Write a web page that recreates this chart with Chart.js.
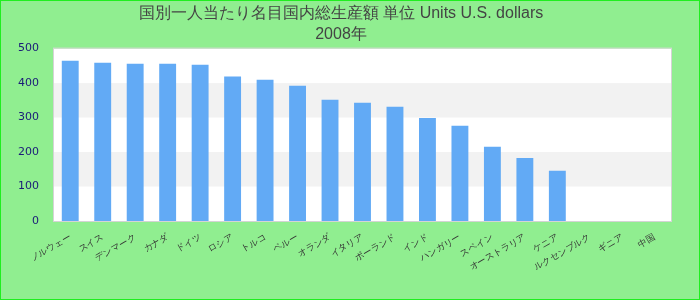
<!DOCTYPE html>
<html>
<head>
<meta charset="utf-8">
<script src="https://cdn.jsdelivr.net/npm/chart.js@4"></script>
<style>
  html, body { margin: 0; padding: 0; }
  #wrap { width: 700px; height: 300px; box-sizing: border-box; border: 1px solid #1fee1f; background: #90ee90; }
</style>
</head>
<body>
<div id="wrap"><canvas id="barChart"></canvas></div>
<script>
// Categories (x axis)
const categories = [
  "ノルウェー", "スイス", "デンマーク", "カナダ", "ドイツ", "ロシア", "トルコ",
  "ペルー", "オランダ", "イタリア", "ポーランド", "インド", "ハンガリー",
  "スペイン", "オーストラリア", "ケニア", "ルクセンブルク", "ギニア", "中国"
];

// Values in U.S. dollars (last three have no data)
const values = [
  465, 459, 456, 456, 453, 419, 410, 392, 352, 343, 331, 299, 276, 215, 183, 146,
  null, null, null
];

// Y axis ticks
const yTicks = [0, 100, 200, 300, 400, 500];

const titleLines = ["国別一人当たり名目国内総生産額 単位 Units U.S. dollars", "2008年"];

// Plot background: white with alternating light gray bands
const bandPlugin = {
  id: "bands",
  beforeDraw(chart) {
    const { ctx, chartArea: a, scales: { y } } = chart;
    ctx.save();
    ctx.fillStyle = "#ffffff";
    ctx.fillRect(a.left, a.top, a.right - a.left, a.bottom - a.top);
    ctx.fillStyle = "#f2f2f2";
    for (let i = 1; i < yTicks.length - 1; i += 2) {
      const top = y.getPixelForValue(yTicks[i + 1]);
      const bottom = y.getPixelForValue(yTicks[i]);
      ctx.fillRect(a.left, top, a.right - a.left, bottom - top);
    }
    ctx.strokeStyle = "#d4d4d4";
    ctx.lineWidth = 1;
    ctx.strokeRect(a.left - 0.5, a.top - 0.5, a.right - a.left + 1, a.bottom - a.top + 1);
    ctx.restore();
  },
};

const ctx = document.getElementById("barChart").getContext("2d");
const barChart = new Chart(ctx, {
  type: "bar",
  data: {
    labels: categories,
    datasets: [
      {
        data: values,
        backgroundColor: "#62aaf5",
        barPercentage: 0.52,
        categoryPercentage: 1,
      },
    ],
  },
  options: {
    responsive: true,
    maintainAspectRatio: false,
    animation: false,
    layout: { padding: { left: 10, right: 28, top: 0, bottom: 0 } },
    plugins: {
      legend: { display: false },
      tooltip: { enabled: false },
      title: {
        display: true,
        text: titleLines,
        color: "#444444",
        font: { family: "'Liberation Sans', Arial, sans-serif", size: 16, weight: "normal", lineHeight: 1.3 },
        padding: { top: 2, bottom: 4 },
      },
    },
    scales: {
      x: {
        grid: { display: false },
        border: { display: false },
        afterFit(axis) {
          axis.height = 78;
        },
        ticks: {
          color: "#333333",
          font: { size: 9 },
          autoSkip: false,
          maxRotation: 30,
          minRotation: 30,
        },
      },
      y: {
        min: 0,
        max: 500,
        grid: { display: false },
        border: { display: false },
        afterBuildTicks(axis) {
          axis.ticks = yTicks.map((v) => ({ value: v }));
        },
        ticks: {
          color: "#1a1a78",
          font: { family: "'DejaVu Sans', sans-serif", size: 11 },
          padding: 7,
        },
      },
    },
  },
  plugins: [bandPlugin],
});
</script>
</body>
</html>
